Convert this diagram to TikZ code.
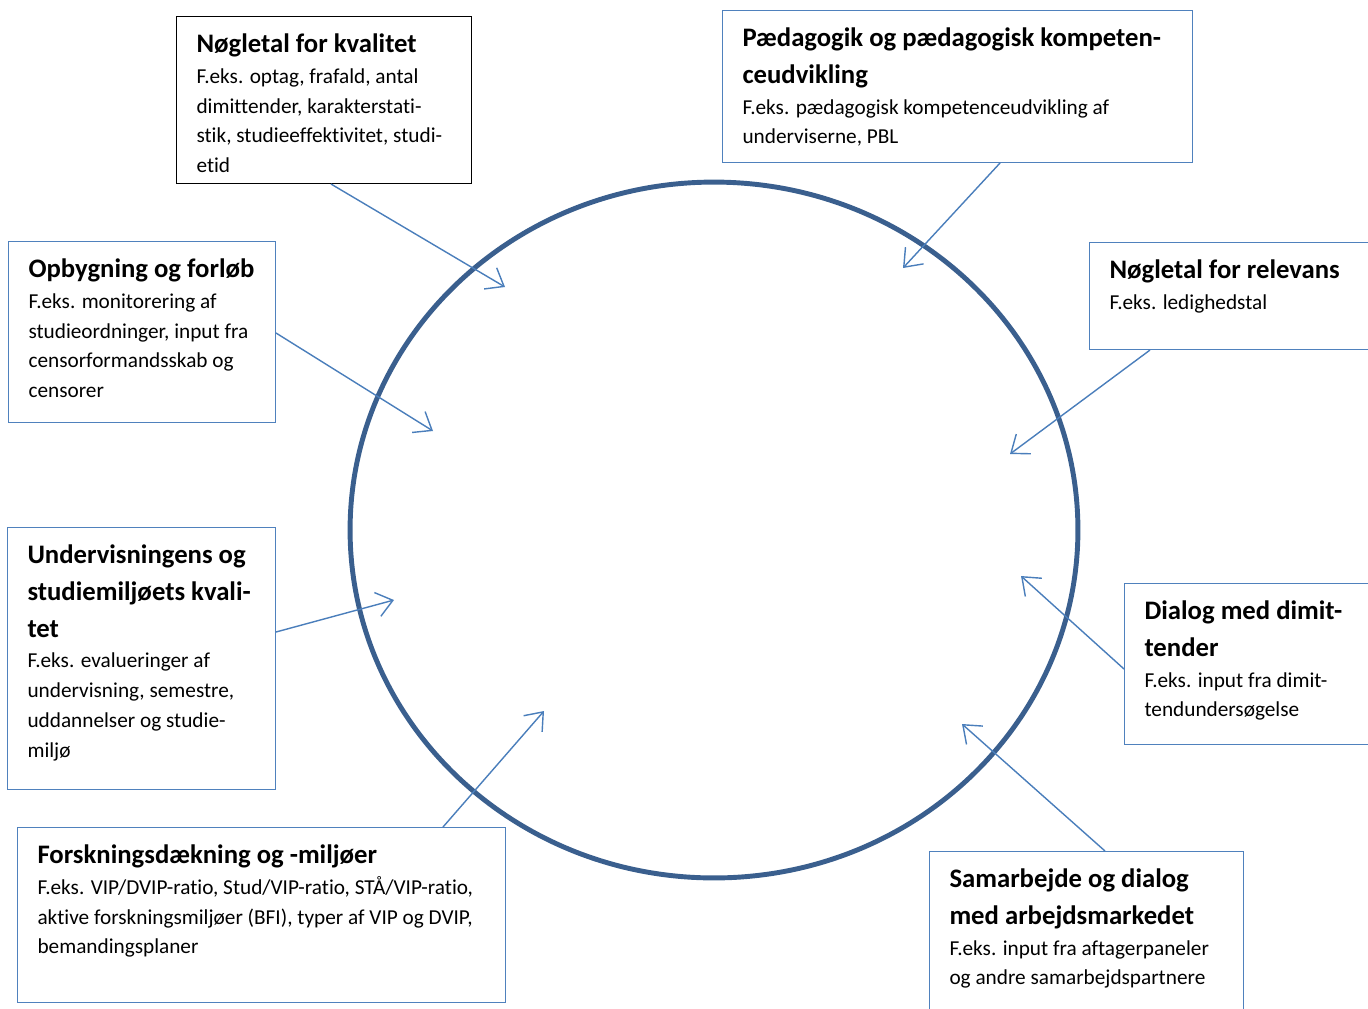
\documentclass[tikz,border=0pt]{standalone}
\usepackage{fontspec}
\setmainfont{Carlito}[Ligatures=NoCommon]
\usetikzlibrary{arrows.meta,calc}

\definecolor{boxblue}{HTML}{4F81BD}
\definecolor{arrowblue}{HTML}{4A7EBB}
\definecolor{ringblue}{HTML}{3A5F8E}

\newcommand{\titlefont}{\bfseries\fontsize{15.2pt}{21pt}\selectfont}
\newcommand{\bodyfont}{\fontsize{12.1pt}{17pt}\selectfont}
\newcommand{\infotext}[4]{%
  \parbox[t][#2][t]{#1}{\leftskip=0.4cm\rightskip=0pt plus 1fil
    {\titlefont #3\par}\vspace{0.02cm}{\bodyfont #4\par}}}

\tikzset{
  infobox/.style={
    draw=boxblue,
    line width=0.6pt,
    anchor=north west,
    inner xsep=0pt,
    inner ysep=0.34cm
  },
  feed/.style={
    draw=arrowblue,
    line width=0.8pt,
    -{Straight Barb[length=9pt,width=14pt]}
  },
  ring/.style={
    draw=ringblue,
    line width=2.8pt
  }
}

\begin{document}
\begin{tikzpicture}[x=0.02cm, y=-0.02cm]
  \useasboundingbox (0,0) rectangle (1368,1008);

  \draw[ring] (714,530) ellipse [x radius=7.28cm, y radius=6.96cm];

  \node[infobox, draw=black] (kval) at (176,16)
    {\infotext{5.9cm}{2.66cm}{Nøgletal for kvalitet}
      {F.eks. optag, frafald, antal\\dimittender, karakterstati-\\stik, studieeffektivitet, studi-\\etid}};
  \node[infobox] (paed) at (722,10)
    {\infotext{9.4cm}{2.36cm}{Pædagogik og pædagogisk kompeten-\\ceudvikling}
      {F.eks. pædagogisk kompetenceudvikling af\\underviserne, PBL}};
  \node[infobox] (relev) at (1089,242)
    {\infotext{5.66cm}{1.46cm}{Nøgletal for relevans}
      {F.eks. ledighedstal}};
  \node[infobox] (opbyg) at (8,241)
    {\infotext{5.34cm}{2.94cm}{Opbygning og forløb}
      {F.eks. monitorering af\\studieordninger, input fra\\censorformandsskab og\\censorer}};
  \node[infobox] (underv) at (7,527)
    {\infotext{5.36cm}{4.56cm}{Undervisningens og\\studiemiljøets kvali-\\tet}
      {F.eks. evalueringer af\\undervisning, semestre,\\uddannelser og studie-\\miljø}};
  \node[infobox] (dialog) at (1124,583)
    {\infotext{4.96cm}{2.54cm}{Dialog med dimit-\\tender}
      {F.eks. input fra dimit-\\tendundersøgelse}};
  \node[infobox] (forsk) at (17,827)
    {\infotext{9.76cm}{2.82cm}{Forskningsdækning og -miljøer}
      {F.eks. VIP/DVIP-ratio, Stud/VIP-ratio, STÅ/VIP-ratio,\\aktive forskningsmiljøer (BFI), typer af VIP og DVIP,\\bemandingsplaner}};
  \node[infobox] (samarb) at (929,851)
    {\infotext{6.28cm}{2.62cm}{Samarbejde og dialog\\med arbejdsmarkedet}
      {F.eks. input fra aftagerpaneler\\og andre samarbejdspartnere}};

  \coordinate (tipkval) at (505,287);
  \coordinate (tippaed) at (903,268);
  \coordinate (tiprelev) at (1010,454);
  \coordinate (tipopbyg) at (433,431);
  \coordinate (tipunderv) at (394,600);
  \coordinate (tipdialog) at (1021,576);
  \coordinate (tipforsk) at (544,711);
  \coordinate (tipsamarb) at (962,724);

  \draw[feed] ($(kval.south west)+(155,0)$) -- (tipkval);
  \draw[feed] ($(paed.south west)+(278,0)$) -- (tippaed);
  \draw[feed] ($(relev.south west)+(61,0)$) -- (tiprelev);
  \draw[feed] ($(opbyg.north east)+(0,92)$) -- (tipopbyg);
  \draw[feed] ($(underv.north east)+(0,105)$) -- (tipunderv);
  \draw[feed] ($(dialog.north west)+(0,86)$) -- (tipdialog);
  \draw[feed] ($(forsk.north west)+(426,0)$) -- (tipforsk);
  \draw[feed] ($(samarb.north west)+(176,0)$) -- (tipsamarb);
\end{tikzpicture}
\end{document}
